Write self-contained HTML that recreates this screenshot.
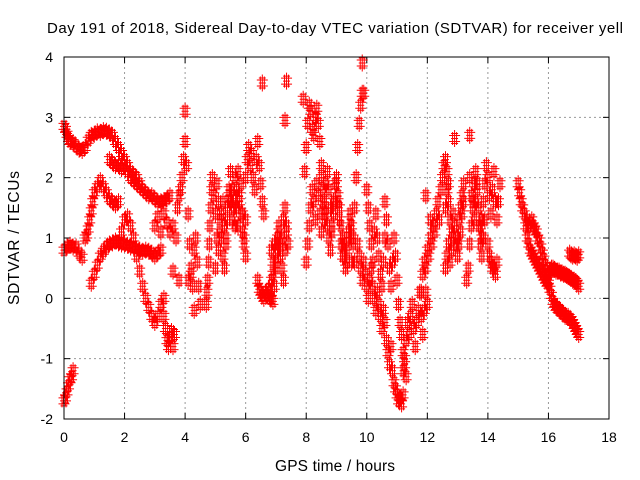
<!DOCTYPE html>
<html><head><meta charset="utf-8"><style>
body{margin:0;background:#fff}
svg{display:block;font-family:"Liberation Sans",sans-serif}
</style></head><body>
<svg id="chart" width="640" height="480">
<rect width="640" height="480" fill="#fff"/>
<text x="47" y="33" font-size="15" textLength="576" lengthAdjust="spacing" fill="#000">Day 191 of 2018, Sidereal Day-to-day VTEC variation (SDTVAR) for receiver yell</text>
<text x="335" y="471" font-size="15.5" text-anchor="middle" textLength="120" lengthAdjust="spacing">GPS time / hours</text>
<text transform="translate(19,238) rotate(-90)" font-size="15.5" text-anchor="middle" textLength="134" lengthAdjust="spacing">SDTVAR / TECUs</text>
<g id="grid"></g><g id="marks"></g>
<rect x="64" y="57" width="545" height="362" fill="none" stroke="#000" stroke-width="1"/>
</svg>
<script>
const xTicks=[0,2,4,6,8,10,12,14,16,18];
const yTicks=[-2,-1,0,1,2,3,4];
const tA=[0,0.05,0.1,0.15,0.2,0.3,0.4,0.5,0.6,0.7,0.8,0.9,1.0,1.1,1.2,1.3,1.4,1.5,1.6,1.7,1.8,1.9,2.0,2.1,2.2,2.3,2.4,2.5,2.6,2.7,2.8,2.9,3.0,3.1,3.2,3.3,3.4,3.5];
const vA=[2.85,2.8,2.72,2.65,2.6,2.58,2.52,2.47,2.45,2.5,2.62,2.7,2.72,2.76,2.75,2.78,2.77,2.74,2.7,2.6,2.5,2.4,2.3,2.2,2.1,2.05,2.0,1.9,1.8,1.75,1.7,1.7,1.65,1.6,1.6,1.62,1.65,1.7];
const tB=[1.5,1.6,1.7,1.8,1.9,2.0,2.1,2.2,2.3,2.4,2.5,2.6,2.7,2.8,2.9,3.0];
const vB=[2.3,2.25,2.2,2.2,2.15,2.2,2.1,2.0,1.95,1.9,1.85,1.8,1.75,1.7,1.7,1.65];
const tC=[0.7,0.75,0.8,0.85,0.9,0.95,1.0,1.1,1.2,1.3,1.4,1.5,1.6,1.7,1.8];
const vC=[1.0,1.05,1.15,1.3,1.45,1.6,1.75,1.85,1.95,1.85,1.75,1.65,1.6,1.55,1.6];
const tD1=[0,0.1,0.2,0.3,0.4,0.5,0.6];
const vD1=[0.8,0.85,0.88,0.85,0.85,0.75,0.68];
const tD2=[0.9,1.0,1.1,1.2,1.3,1.4,1.5,1.6,1.7,1.8,1.9,2.0,2.1,2.2,2.3,2.4,2.5,2.6,2.7,2.8,2.9,3.0,3.1,3.2];
const vD2=[0.25,0.4,0.55,0.7,0.78,0.85,0.9,0.92,0.95,0.92,0.9,0.9,0.88,0.85,0.85,0.82,0.8,0.78,0.8,0.78,0.75,0.7,0.75,0.8];
const tE=[1.9,2.0,2.1,2.2,2.3,2.4,2.5,2.6,2.7,2.8,2.9,3.0,3.1,3.2,3.3];
const vE=[1.1,1.3,1.35,1.2,1.0,0.7,0.45,0.2,0.0,-0.15,-0.3,-0.4,-0.3,-0.1,0.0];
const tF=[3.3,3.35,3.4,3.45,3.5,3.55,3.6,3.65];
const vF=[-0.3,-0.5,-0.7,-0.8,-0.65,-0.55,-0.8,-0.6];
const tG=[0,0.05,0.1,0.15,0.2,0.25,0.3];
const vG=[-1.7,-1.65,-1.55,-1.45,-1.35,-1.3,-1.2];
const tH=[3.0,3.1,3.2,3.3,3.4,3.5,3.6,3.7,3.75,3.8,3.85,3.9,3.95,4.0,4.0,4.05,4.1,4.15,4.2,4.25,4.3];
const vH=[1.2,1.35,1.1,1.4,1.25,1.1,1.2,1.0,1.5,1.7,1.8,2.0,2.3,2.6,3.1,2.2,1.4,0.9,0.5,0.2,-0.2];
const tI=[4.2,4.3,4.35,4.4,4.45,4.5];
const vI=[0.4,0.8,1.0,0.6,0.2,-0.1];
const tJ=[4.7,4.72,4.75,4.78,4.8,4.82,4.85,4.88,4.9,4.95,5.0,5.05];
const vJ=[-0.1,0.1,0.3,0.6,0.9,1.2,1.5,1.8,2.0,1.7,1.4,1.0];
const tK=[5.0,5.1,5.15,5.2,5.25,5.3,5.35,5.4,5.45,5.5,5.55,5.6,5.65,5.7,5.75,5.8,5.85,5.9,5.95,6.0];
const vK=[0.5,0.8,1.1,1.4,1.6,1.2,0.9,1.5,1.8,1.6,1.3,1.7,2.0,1.5,1.2,1.6,1.9,1.4,1.0,1.3];
const tK2=[5.05,5.1,5.15,5.2,5.25,5.3,5.35,5.4,5.45,5.5,5.55,5.6,5.65,5.7,5.75,5.8,5.85,5.9,5.95,6.0];
const vK2=[1.9,1.6,1.3,1.0,0.7,0.5,1.0,1.3,1.7,2.1,1.8,1.5,1.2,1.8,2.1,1.7,1.4,1.1,0.9,0.7];
const tL=[6.0,6.05,6.1,6.15,6.2,6.25,6.3,6.35,6.4,6.45,6.5,6.55,6.6];
const vL=[2.0,2.3,2.5,2.2,2.4,2.0,1.8,2.3,2.6,2.2,1.9,1.6,1.4];
const tM=[6.4,6.45,6.5,6.55,6.6,6.65,6.7,6.75,6.8,6.85,6.9];
const vM=[0.3,0.15,0.1,0.05,0.0,0.1,0.05,0.15,0.1,0.0,-0.05];
const tN=[6.8,6.85,6.9,6.95,7.0,7.05,7.1,7.15,7.2,7.25,7.3,7.35,7.4];
const vN=[0.0,0.3,0.6,0.9,0.5,0.8,1.1,0.7,1.0,1.3,1.5,1.2,0.9];
const tN2=[6.85,6.9,6.95,7.0,7.05,7.1,7.15,7.2,7.25,7.3,7.35];
const vN2=[0.8,0.4,0.2,0.6,1.0,1.2,0.9,0.5,0.3,0.8,1.1];
const tO=[7.95,8.0,8.05,8.1,8.15,8.2,8.25,8.3,8.35,8.4,8.45,8.5];
const vO=[2.1,2.5,2.9,3.2,3.1,2.8,2.7,3.0,3.15,2.9,2.6,2.2];
const tP=[8.0,8.05,8.1,8.15,8.2,8.25,8.3,8.35,8.4,8.45,8.5,8.55,8.6];
const vP=[0.6,0.9,1.2,1.5,1.8,1.6,1.3,1.9,1.7,1.4,1.1,1.6,1.3];
const tQ=[8.5,8.55,8.6,8.65,8.7,8.75,8.8,8.85,8.9,8.95,9.0,9.05,9.1,9.15,9.2,9.25,9.3,9.35,9.4,9.45,9.5];
const vQ=[2.0,1.8,1.6,1.4,1.2,1.0,0.8,1.1,1.4,1.6,1.9,1.7,1.5,1.2,1.0,0.7,0.5,0.8,1.1,1.3,1.0];
const tQ2=[8.6,8.65,8.7,8.75,8.8,8.85,8.9,8.95,9.0,9.05,9.1,9.15,9.2,9.25,9.3,9.35,9.4,9.45,9.5,9.55,9.6];
const vQ2=[1.5,1.9,2.1,1.8,1.5,1.2,1.6,1.9,2.0,1.6,1.3,0.9,0.7,0.9,0.5,0.6,1.0,1.4,1.2,0.9,0.6];
const tR=[9.5,9.55,9.6,9.65,9.7,9.75,9.8,9.85];
const vR=[0.6,1.0,1.5,2.0,2.5,2.9,3.2,3.4];
const tS=[9.7,9.75,9.8,9.85,9.9,9.95,10.0,10.05,10.1,10.15,10.2,10.25,10.3,10.35,10.4,10.45,10.5,10.55,10.6,10.65,10.7,10.75,10.8,10.85,10.9,10.95,11.0,11.05,11.1,11.15,11.2];
const vS=[0.9,0.7,0.5,0.3,0.6,0.4,0.2,0.0,0.3,0.5,0.2,0.0,-0.2,0.1,-0.1,-0.3,-0.5,-0.2,-0.4,-0.7,-0.9,-1.1,-0.8,-1.2,-1.4,-1.5,-1.6,-1.7,-1.65,-1.75,-1.6];
const tS2=[10.0,10.05,10.1,10.15,10.2,10.25,10.3,10.35,10.4,10.45,10.5,10.55,10.6];
const vS2=[1.8,1.5,1.2,0.9,0.6,1.1,1.4,1.0,0.7,0.4,0.2,0.6,1.0];
const tT=[10.6,10.65,10.7,10.75,10.8,10.85,10.9,10.95,11.0,11.05,11.1,11.15,11.2,11.25,11.3];
const vT=[1.6,1.3,0.9,0.5,0.2,0.6,1.0,0.7,0.3,-0.1,-0.4,-0.6,-0.9,-1.1,-1.3];
const tU=[11.2,11.25,11.3,11.35,11.4,11.45,11.5,11.55,11.6,11.65,11.7,11.75,11.8,11.85,11.9,11.95,12.0];
const vU=[-1.2,-1.0,-0.7,-0.4,-0.6,-0.3,-0.1,-0.5,-0.8,-0.4,-0.2,0.1,-0.3,-0.6,-0.2,0.1,-0.1];
const tV=[11.8,11.85,11.9,11.95,12.0,12.05,12.1,12.15,12.2,12.25,12.3,12.35,12.4,12.45,12.5,12.55,12.6,12.65,12.7];
const vV=[0.1,0.4,0.6,0.5,0.8,0.7,1.0,0.9,1.2,1.1,1.4,1.6,1.3,1.8,2.0,2.2,2.3,2.1,1.9];
const tW=[12.6,12.65,12.7,12.75,12.8,12.85,12.9,12.95,13.0,13.05,13.1,13.15,13.2];
const vW=[1.5,1.8,1.6,1.3,1.1,1.4,1.2,0.9,1.0,1.3,1.5,1.7,1.9];
const vW2=[0.5,0.7,0.9,0.6,0.8,1.0,1.2,0.9,0.7,0.9,1.1,1.4,1.6];
const tX=[13.3,13.35,13.4,13.45,13.5,13.55,13.6,13.65,13.7,13.75,13.8];
const vX=[0.3,0.5,0.9,1.2,1.6,1.9,2.1,1.8,1.5,1.2,1.0];
const tX2=[13.4,13.45,13.5,13.55,13.6,13.65,13.7,13.75,13.8,13.85,13.9];
const vX2=[2.0,1.7,1.5,1.3,1.6,1.9,1.2,0.9,0.7,1.0,1.3];
const tY=[13.8,13.85,13.9,13.95,14.0,14.05,14.1,14.15,14.2,14.25,14.3,14.35,14.4];
const vY=[1.3,1.6,1.9,2.2,2.0,1.7,1.4,1.8,2.1,1.6,1.3,1.6,1.9];
const tY2=[14.0,14.05,14.1,14.15,14.2,14.25,14.3];
const vY2=[0.9,0.7,0.6,0.5,0.5,0.4,0.6];
const tZ=[15.0,15.05,15.1,15.15,15.2,15.25,15.3,15.35,15.4,15.45,15.5,15.55,15.6,15.65,15.7,15.75,15.8,15.85,15.9,15.95,16.0];
const vZ=[1.9,1.75,1.6,1.5,1.4,1.2,1.0,0.9,0.8,0.75,0.7,0.65,0.6,0.55,0.5,0.45,0.4,0.35,0.3,0.25,0.3];
const tZ2=[15.3,15.35,15.4,15.45,15.5,15.55,15.6,15.65,15.7,15.75,15.8,15.85,15.9,15.95,16.0];
const vZ2=[1.3,1.2,1.25,1.3,1.2,1.15,1.1,1.0,0.95,0.85,0.75,0.65,0.55,0.45,0.4];
const tAA=[16.0,16.05,16.1,16.15,16.2,16.25,16.3,16.35,16.4,16.45,16.5,16.55,16.6,16.65,16.7,16.75,16.8,16.85,16.9,16.95,17.0];
const vAA=[0.35,0.45,0.5,0.5,0.48,0.45,0.45,0.45,0.42,0.42,0.4,0.4,0.38,0.36,0.35,0.33,0.3,0.3,0.28,0.25,0.2];
const vAB=[0.25,0.15,0.05,-0.05,-0.1,-0.15,-0.15,-0.2,-0.2,-0.25,-0.25,-0.3,-0.3,-0.3,-0.35,-0.35,-0.4,-0.45,-0.5,-0.55,-0.6];
const tAC=[16.7,16.75,16.8,16.85,16.9,16.95,17.0];
const vAC=[0.75,0.72,0.7,0.72,0.7,0.68,0.72];
const tOut=[6.55,7.35,9.85,7.3,13.4,12.9,9.9,7.9,3.6,3.8,4.1,11.95,12.1];
const vOut=[3.57,3.6,3.9,2.95,2.7,2.65,3.4,3.3,0.45,0.3,0.3,1.7,1.3];
const series=[[tA,vA],[tB,vB],[tC,vC],[tD1,vD1],[tD2,vD2],[tE,vE],[tF,vF],[tG,vG],[tH,vH],[tI,vI],[tJ,vJ],[tK,vK],[tK2,vK2],[tL,vL],[tM,vM],[tN,vN],[tN2,vN2],[tO,vO],[tP,vP],[tQ,vQ],[tQ2,vQ2],[tR,vR],[tS,vS],[tS2,vS2],[tT,vT],[tU,vU],[tV,vV],[tW,vW],[tW,vW2],[tX,vX],[tX2,vX2],[tY,vY],[tY2,vY2],[tZ,vZ],[tZ2,vZ2],[tAA,vAA],[tAA,vAB],[tAC,vAC],[tOut,vOut]];

const X0=64,X1=609,Y0=419,Y1=57;
function xs(t){return X0+(t-0)/(18-0)*(X1-X0);}
function ys(v){return Y0-(v+2)/(4+2)*(Y0-Y1);}
const NS='http://www.w3.org/2000/svg';
const grid=document.getElementById('grid');
const marks=document.getElementById('marks');
function mk(tag,attrs,parent){const e=document.createElementNS(NS,tag);for(const k in attrs)e.setAttribute(k,attrs[k]);parent.appendChild(e);return e;}
xTicks.forEach(t=>{
  const x=xs(t);
  if(t>0&&t<18){const g=mk('line',{x1:x,x2:x,y1:Y1,y2:Y0,stroke:'#999','stroke-dasharray':'2,3','stroke-width':1},grid);
  
  }
  mk('line',{x1:x,x2:x,y1:Y0,y2:Y0-6,stroke:'#000'},grid);
  mk('line',{x1:x,x2:x,y1:Y1,y2:Y1+6,stroke:'#000'},grid);
  const tx=mk('text',{x:x,y:442,'font-size':14,'text-anchor':'middle',fill:'#000'},grid);
  tx.textContent=t;
  
  
});
yTicks.forEach(v=>{
  const y=ys(v);
  if(v>-2&&v<4){const g=mk('line',{x1:X0,x2:X1,y1:y,y2:y,stroke:'#999','stroke-dasharray':'2,3','stroke-width':1},grid);
  
  }
  mk('line',{x1:X0,x2:X0+6,y1:y,y2:y,stroke:'#000'},grid);
  mk('line',{x1:X1,x2:X1-6,y1:y,y2:y,stroke:'#000'},grid);
  const tx=mk('text',{x:53,y:y+5,'font-size':14,'text-anchor':'end',fill:'#000'},grid);
  tx.textContent=v;
  
  
});
const offs=[[0,0],[-2,-3],[2,3],[-2,3],[2,-3],[0,-5],[0,5]];
let d='';
series.forEach(([ts,vs])=>{
  for(let i=0;i<ts.length&&i<vs.length;i++){
    const x=xs(ts[i]),y=ys(vs[i]);
    for(const [dx,dy] of offs){d+=`M${x+dx-3.5},${y+dy}h7M${x+dx},${y+dy-3.5}v7`;}
  }
});
const p=mk('path',{d:d,stroke:'#ff0000','stroke-width':1,fill:'none'},marks);


</script>
</body></html>
